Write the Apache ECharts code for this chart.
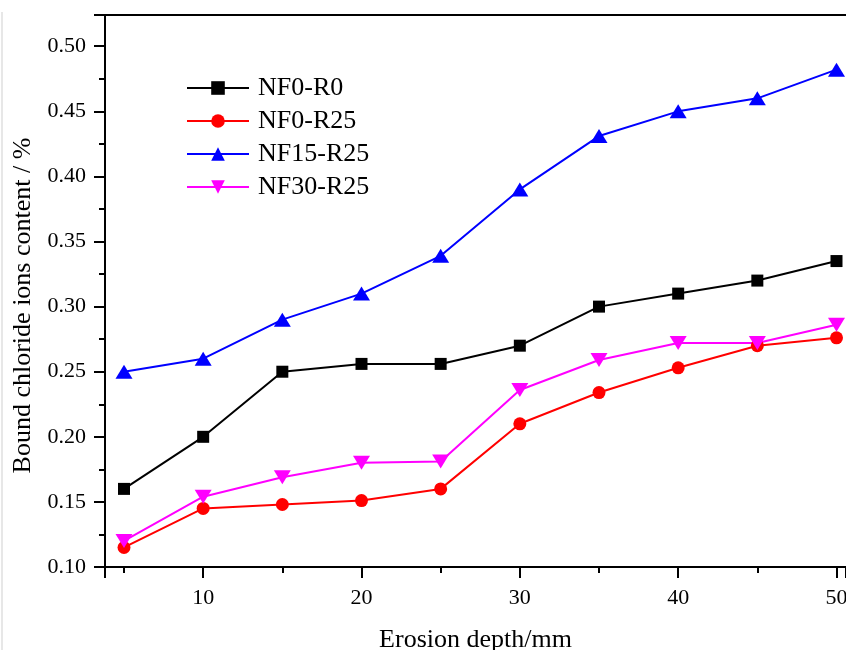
<!DOCTYPE html>
<html>
<head>
<meta charset="utf-8">
<script src="https://cdn.jsdelivr.net/npm/echarts@6/dist/echarts.min.js"></script>
<style>
html, body { margin: 0; padding: 0; background: #fff; }
#chart { width: 846px; height: 650px; }
</style>
</head>
<body>
<div id="chart"></div>
<script>
// erosion depth (mm)
const depth = [5, 10, 15, 20, 25, 30, 35, 40, 45, 50]
const seriesNames = ['NF0-R0', 'NF0-R25', 'NF15-R25', 'NF30-R25']
// bound chloride ions content (%)
const nf0r0 = [0.160, 0.200, 0.250, 0.256, 0.256, 0.270, 0.300, 0.310, 0.320, 0.335]
const nf0r25 = [0.115, 0.145, 0.148, 0.151, 0.160, 0.210, 0.234, 0.253, 0.270, 0.276]
const nf15r25 = [0.250, 0.260, 0.290, 0.310, 0.339, 0.390, 0.431, 0.450, 0.460, 0.482]
const nf30r25 = [0.120, 0.154, 0.169, 0.180, 0.181, 0.236, 0.259, 0.272, 0.272, 0.286]

const font = 'Liberation Serif'

function pairs(vals){
    return depth.map((d, i) => [d, vals[i]])
}

function makeSeries(name, vals, color, symbol, size){
    return {
        name: name,
        type: 'line',
        data: pairs(vals),
        symbol: symbol,
        symbolSize: size,
        color: color,
        lineStyle: { color: color, width: 2 },
        itemStyle: { color: color },
        emphasis: { disabled: true },
        animation: false
    }
}

const chart = echarts.init(document.getElementById('chart'))
const option = {
    animation: false,
    textStyle: { fontFamily: font, color: '#000' },
    grid: { left: 105, right: 0, top: 15, bottom: 83, outerBoundsMode: 'none', containLabel: false },
    legend: {
        left: 181,
        top: 70,
        orient: 'vertical',
        itemWidth: 62,
        itemHeight: 17,
        itemGap: 7,
        textStyle: { fontFamily: font, fontSize: 26, color: '#000', lineHeight: 26, padding: [0, 0, 0, 4] },
        data: seriesNames
    },
    xAxis: [
        {
            type: 'value',
            min: 3.8,
            max: 50.6,
            name: 'Erosion depth/mm',
            nameLocation: 'middle',
            nameGap: 60,
            nameTextStyle: { fontFamily: font, fontSize: 26, color: '#000' },
            axisLine: { lineStyle: { color: '#000', width: 2 } },
            axisTick: { inside: false, length: 11, lineStyle: { color: '#000', width: 2 } },
            minorTick: { show: true, splitNumber: 2, length: 6, lineStyle: { color: '#000', width: 2 } },
            axisLabel: { fontFamily: font, fontSize: 22, color: '#000', margin: 20, showMinLabel: false, showMaxLabel: false },
            splitLine: { show: false }
        },
        {
            type: 'value',
            position: 'top',
            min: 3.8,
            max: 50.6,
            axisLine: { lineStyle: { color: '#000', width: 2 } },
            axisTick: { show: false },
            axisLabel: { show: false },
            splitLine: { show: false }
        }
    ],
    yAxis: {
        type: 'value',
        min: 0.1,
        max: 0.524,
        splitNumber: 8,
        name: 'Bound chloride ions content / %',
        nameLocation: 'middle',
        nameGap: 67,
        nameTextStyle: { fontFamily: font, fontSize: 26, color: '#000', padding: [0, 29, 0, 0] },
        axisLine: { show: true, lineStyle: { color: '#000', width: 2 } },
        axisTick: { show: true, inside: false, length: 11, lineStyle: { color: '#000', width: 2 } },
        minorTick: { show: true, splitNumber: 2, length: 6, lineStyle: { color: '#000', width: 2 } },
        axisLabel: {
            fontFamily: font, fontSize: 22, color: '#000', margin: 19, showMaxLabel: false,
            formatter: v => v.toFixed(2)
        },
        splitLine: { show: false }
    },
    graphic: [
        {
            type: 'line',
            shape: { x1: 2, y1: 12, x2: 2, y2: 650 },
            style: { stroke: '#cfcfcf', lineWidth: 1 }
        }
    ],
    series: [
        makeSeries(seriesNames[0], nf0r0, '#000000', 'rect', 12),
        makeSeries(seriesNames[1], nf0r25, '#ff0000', 'circle', 13),
        makeSeries(seriesNames[2], nf15r25, '#0000ff', 'triangle', [17, 14]),
        makeSeries(seriesNames[3], nf30r25, '#ff00ff', 'path://M0,0 L10,0 L5,8 Z', [17, 14])
    ]
}
chart.setOption(option)
</script>
</body>
</html>
